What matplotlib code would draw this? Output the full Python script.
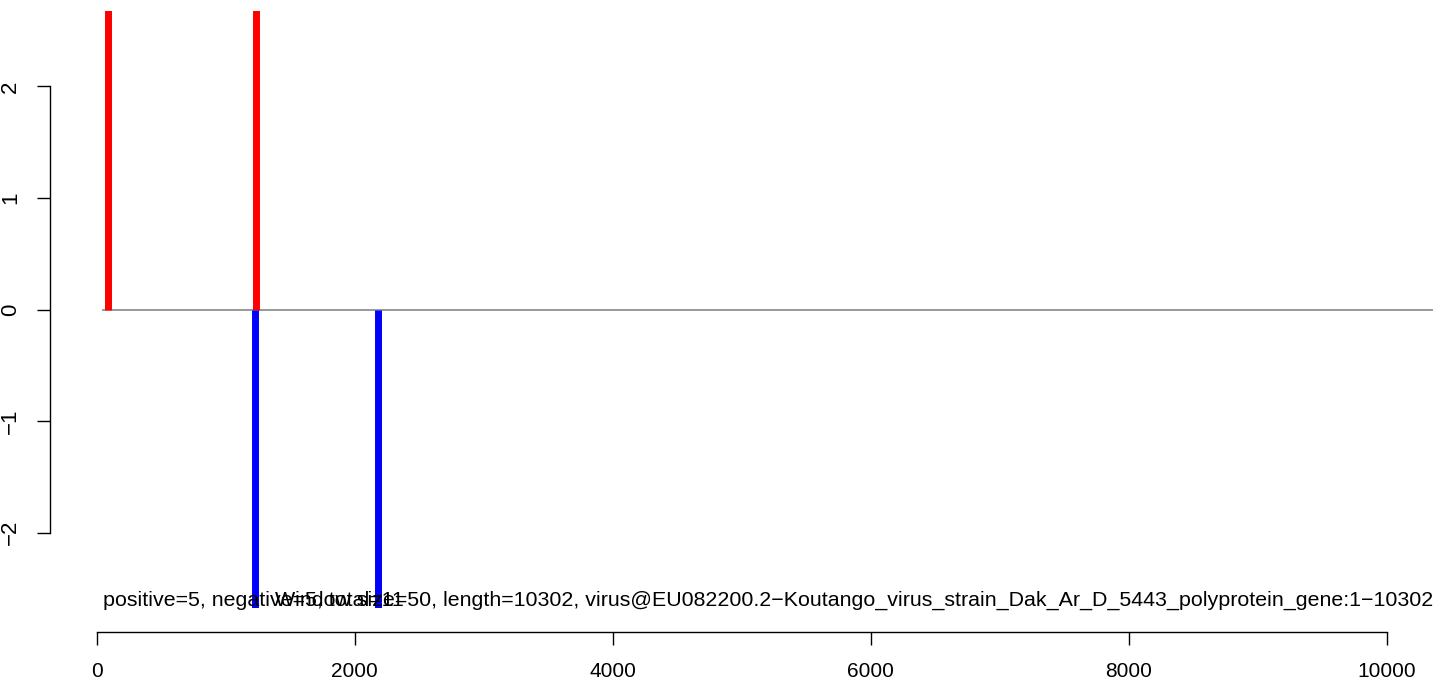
import matplotlib
matplotlib.use("Agg")
import matplotlib.pyplot as plt

# sites (bars run past the top/bottom of the plot)
pos_x = [84, 1231]
pos_y = [3, 3]
neg_x = [1230, 2178]
neg_y = [-3, -3]

window = 50
length = 10302
virus = "EU082200.2-Koutango_virus_strain_Dak_Ar_D_5443_polyprotein_gene:1-10302"
n_pos, n_neg, n_total = 5, 5, 11

xticks = [0, 2000, 4000, 6000, 8000, 10000]
yticks = [-2, -1, 0, 1, 2]

plt.rcParams['font.family'] = ['Liberation Sans', 'DejaVu Sans']

W, H = 1444, 683
fig = plt.figure(figsize=(W / 100, H / 100), dpi=100)
ax = fig.add_axes([50 / W, 75 / H, (W - 50) / W, 597 / H])

# baseline
ax.plot([window, length + window], [0, 0], color='#999999', lw=1.4, zorder=1)

ax.vlines(pos_x, 0, pos_y, color='red', lw=5.0, zorder=2)
ax.vlines(neg_x, 0, neg_y, color='blue', lw=5.0, zorder=3)

# the two labels overlap in the original too
ax.text(window, -2.61, "positive=%d, negative=%d, total=%d" % (n_pos, n_neg, n_total),
        ha='left', va='center', fontsize=15.4)
ax.text(10357, -2.61, "Window size=%d, length=%d, virus@%s" % (window, length, virus.replace('-', '\u2212')),
        ha='right', va='center', fontsize=15.4)

ax.set_xlim(-362, 10444)
ax.set_ylim(-2.677, 2.677)

for s in ['top', 'right']:
    ax.spines[s].set_visible(False)
ax.spines['left'].set_bounds(-2, 2)
ax.spines['bottom'].set_bounds(0, 10000)
ax.spines['bottom'].set_position(('outward', 17))
for s in ['left', 'bottom']:
    ax.spines[s].set_linewidth(1.0)

ax.set_xticks(xticks)
ax.set_xticklabels([str(v) for v in xticks])
ax.set_yticks(yticks)
ax.set_yticklabels([str(v).replace('-', '\u2212') for v in yticks], rotation=90, va='center')
ax.tick_params(length=9.4, width=1.0, pad=12.5, labelsize=15)
ax.tick_params(axis='y', labelsize=16, pad=11.5)

fig.savefig('out.png', dpi=100)
